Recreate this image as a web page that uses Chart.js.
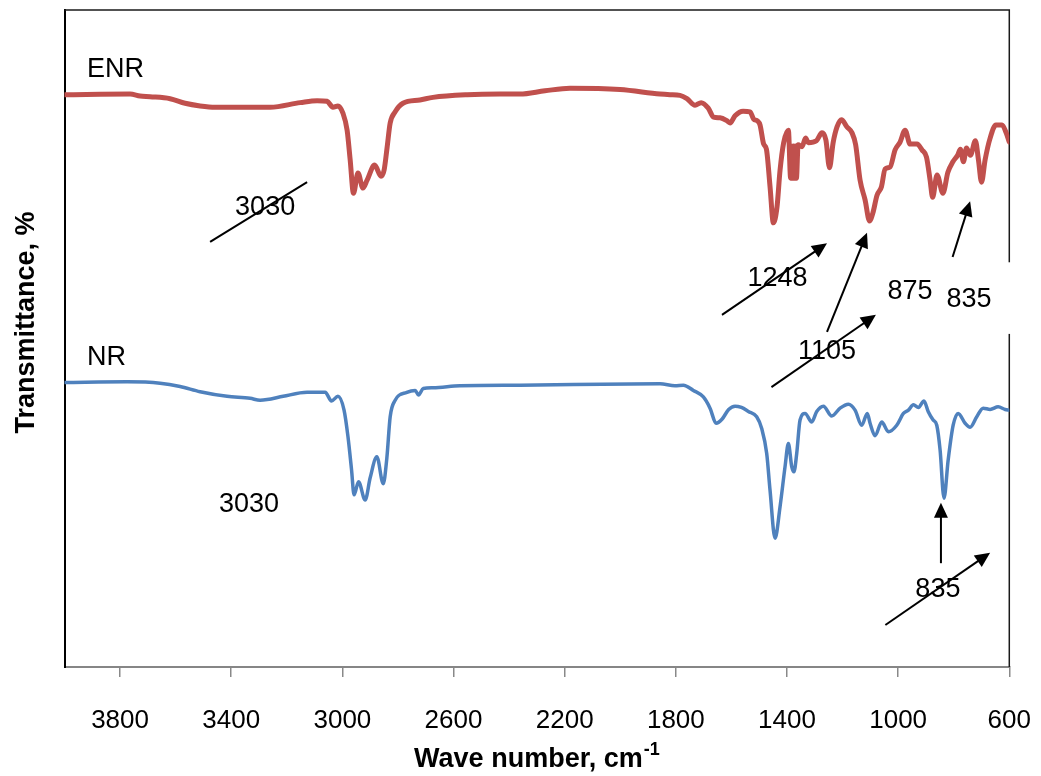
<!DOCTYPE html>
<html>
<head>
<meta charset="utf-8">
<script src="https://cdn.jsdelivr.net/npm/chart.js@4.4.1/dist/chart.umd.min.js"></script>
<style>
html,body{margin:0;padding:0;background:#ffffff;}
#wrap{width:1041px;height:776px;}
canvas{display:block;}
</style>
</head>
<body>
<div id="wrap"><canvas id="c" width="1041" height="776"></canvas></div>
<script>
// ---------- DATA ----------
const enrWave = [4000,3764,3728,3692,3620,3566,3512,3458,3332,3260,3152,3091,3055,3034,3016,2998,2983,2972,2960,2944,2926,2911,2884,2861,2850,2839,2828,2810,2782,2721,2674,2551,2433,2361,2271,2181,2001,1857,1821,1785,1760,1731,1709,1684,1664,1641,1618,1605,1587,1558,1533,1520,1506,1497,1484,1474,1461,1449,1436,1425,1412,1395,1387,1384,1380,1377,1373,1369,1366,1360,1346,1333,1323,1294,1274,1260,1247,1234,1220,1204,1184,1166,1153,1137,1119,1103,1091,1076,1060,1047,1029,1011,993,975,957,932,914,898,885,876,860,839,821,803,786,776,765,754,740,722,711,700,687,669,648,626,612,600];
const enrT = [87.1,87.2,86.9,86.8,86.5,85.8,85.4,85.2,85.2,85.2,85.9,86.2,86.1,85.2,85.4,84.3,81.7,77.2,72.1,75.2,72.9,74.1,76.4,74.7,75.6,79.1,82.8,84.5,85.8,86.3,86.7,87.1,87.2,87.2,87.7,88.1,87.9,87.2,87.1,87.0,86.5,85.5,85.9,85.1,83.7,83.6,83.2,82.8,83.9,84.6,84.5,83.4,83.1,82.5,79.6,78.8,73.1,67.6,70.0,75.6,79.8,81.7,74.4,79.3,74.4,79.3,74.4,79.3,74.4,79.5,79.2,80.5,79.8,80.1,81.3,80.2,76.0,79.8,82.2,83.3,82.2,81.3,79.5,74.1,71.1,67.9,69.1,71.8,73.1,75.8,76.1,78.7,79.9,81.7,79.6,79.6,78.7,77.6,74.1,71.5,74.9,72.1,75.3,76.9,77.9,78.8,76.9,79.0,77.9,80.1,77.2,73.8,77.2,80.5,82.5,82.5,81.4,79.9];

const nrWave = [4000,3775,3656,3584,3512,3415,3332,3296,3271,3213,3127,3062,3039,3016,2994,2980,2967,2958,2942,2918,2900,2876,2853,2840,2828,2810,2768,2738,2726,2709,2674,2577,2361,1857,1803,1773,1737,1701,1677,1655,1634,1610,1587,1564,1539,1509,1491,1473,1461,1443,1425,1407,1395,1383,1375,1365,1353,1335,1311,1293,1269,1239,1209,1179,1155,1131,1111,1101,1083,1059,1035,1005,981,963,945,927,907,892,874,861,849,835,820,802,784,759,741,717,694,669,640,615,600];
const nrT = [43.3,43.4,43.2,42.7,41.9,41.2,40.9,40.6,40.7,41.2,41.8,41.8,40.5,41.2,39.1,35.1,30.0,26.2,28.2,25.4,28.8,32.0,27.9,31.8,38.1,40.6,41.8,42.1,41.4,42.4,42.5,42.8,42.9,43.1,42.8,42.9,42.1,41.1,39.4,37.1,37.7,39.2,39.7,39.5,38.9,38.1,36.3,32.5,26.9,19.6,24.4,30.5,34.0,30.5,29.7,32.5,37.6,38.6,37.3,38.9,39.7,38.2,39.4,40.0,39.1,36.8,38.6,37.1,35.2,37.3,35.8,36.8,38.6,39.1,39.9,39.5,40.5,38.9,37.6,36.8,33.0,25.7,31.5,36.8,38.6,37.1,36.5,38.1,39.4,39.2,39.6,39.2,39.1];

const tickValues = [3800,3400,3000,2600,2200,1800,1400,1000,600];
const tickLabels = ['3800','3400','3000','2600','2200','1800','1400','1000','600'];

// annotation arrows: [fromWave, fromT, toWave, toT, hasHead]
const arrowList = [
  [3476, 64.7, 3127, 73.8, 0],
  [1634, 53.6, 1256, 64.5, 1],
  [1256, 51.0, 1112, 66.1, 1],
  [1456, 42.6, 1080, 53.6, 1],
  [804, 62.4, 741, 70.9, 1],
  [846, 15.8, 846, 25.0, 1],
  [1046, 6.4, 669, 17.4, 1]
];
// annotation labels
const labelTexts = ['ENR','NR','3030','3030','1248','875','835','1105','835'];
const labelWave  = [3919, 3919, 3278, 3336, 1434, 957, 745, 1256, 857];
const labelT     = [90.9, 47.1, 69.9, 24.7, 59.05, 57.1, 56.0, 48.0, 11.8];
const labelAlign = ['left','left','center','center','center','center','center','center','center'];
// white text box behind the upper "835" label: [wave1, T1, wave2, T2]
const whiteBox = [857, 61.6, 562, 50.7];

const FONT = '"Liberation Sans", Arial, Helvetica, sans-serif';

// ---------- PLUGINS ----------
const framePlugin = {
  id: 'frame',
  beforeDatasetsDraw(chart) {
    const {ctx, chartArea: a} = chart;
    ctx.save();
    ctx.strokeStyle = '#1a1a1a';
    ctx.lineWidth = 1.5;
    ctx.beginPath();
    ctx.moveTo(a.left, a.top);
    ctx.lineTo(a.right, a.top);
    ctx.lineTo(a.right, a.bottom);
    ctx.stroke();
    ctx.restore();
  }
};

const annotPlugin = {
  id: 'annot',
  afterDatasetsDraw(chart) {
    const {ctx, scales: {x, y}} = chart;
    ctx.save();
    // white box
    const bx1 = x.getPixelForValue(whiteBox[0]), by1 = y.getPixelForValue(whiteBox[1]);
    const bx2 = x.getPixelForValue(whiteBox[2]), by2 = y.getPixelForValue(whiteBox[3]);
    ctx.fillStyle = '#ffffff';
    ctx.fillRect(bx1, by1, bx2 - bx1, by2 - by1);
    // arrows
    ctx.strokeStyle = '#000';
    ctx.fillStyle = '#000';
    ctx.lineWidth = 2;
    arrowList.forEach(a => {
      const x1 = x.getPixelForValue(a[0]), y1 = y.getPixelForValue(a[1]);
      const x2 = x.getPixelForValue(a[2]), y2 = y.getPixelForValue(a[3]);
      const ang = Math.atan2(y2 - y1, x2 - x1);
      const hl = 15, hw = 7;
      let ex = x2, ey = y2;
      if (a[4]) { ex = x2 - Math.cos(ang) * (hl - 2); ey = y2 - Math.sin(ang) * (hl - 2); }
      ctx.beginPath();
      ctx.moveTo(x1, y1);
      ctx.lineTo(ex, ey);
      ctx.stroke();
      if (a[4]) {
        const bx = x2 - Math.cos(ang) * hl, by = y2 - Math.sin(ang) * hl;
        ctx.beginPath();
        ctx.moveTo(x2, y2);
        ctx.lineTo(bx - Math.sin(ang) * hw, by + Math.cos(ang) * hw);
        ctx.lineTo(bx + Math.sin(ang) * hw, by - Math.cos(ang) * hw);
        ctx.closePath();
        ctx.fill();
      }
    });
    // labels
    ctx.font = '27px ' + FONT;
    ctx.textBaseline = 'middle';
    labelTexts.forEach((t, i) => {
      ctx.textAlign = labelAlign[i];
      ctx.fillText(t, x.getPixelForValue(labelWave[i]), y.getPixelForValue(labelT[i]));
    });
    ctx.restore();
  },
  afterDraw(chart) {
    const {ctx, chartArea: a} = chart;
    ctx.save();
    ctx.fillStyle = '#000';
    // x-axis title with superscript
    const main = 'Wave number, cm';
    const sup = '-1';
    ctx.font = 'bold 27px ' + FONT;
    const mw = ctx.measureText(main).width;
    ctx.font = 'bold 18px ' + FONT;
    const sw = ctx.measureText(sup).width;
    const cx = (a.left + a.right) / 2;
    const sx = cx - (mw + sw + 1) / 2;
    ctx.textAlign = 'left';
    ctx.textBaseline = 'alphabetic';
    ctx.font = 'bold 27px ' + FONT;
    ctx.fillText(main, sx, 767);
    ctx.font = 'bold 18px ' + FONT;
    ctx.fillText(sup, sx + mw + 1, 755);
    // y-axis title
    ctx.font = 'bold 27px ' + FONT;
    ctx.translate(34, (a.top + a.bottom) / 2 - 16);
    ctx.rotate(-Math.PI / 2);
    ctx.textAlign = 'center';
    ctx.fillText('Transmittance, %', 0, 0);
    ctx.restore();
  }
};

// ---------- CHART ----------
const enrData = enrWave.map((w, i) => ({x: w, y: enrT[i]}));
const nrData = nrWave.map((w, i) => ({x: w, y: nrT[i]}));

new Chart(document.getElementById('c'), {
  type: 'line',
  data: {
    datasets: [
      {label: 'ENR', data: enrData, borderColor: '#C0504D', borderWidth: 5, pointRadius: 0,
       cubicInterpolationMode: 'monotone', fill: false, borderCapStyle: 'round', borderJoinStyle: 'round'},
      {label: 'NR', data: nrData, borderColor: '#4F81BD', borderWidth: 3.5, pointRadius: 0,
       cubicInterpolationMode: 'monotone', fill: false, borderCapStyle: 'round', borderJoinStyle: 'round'}
    ]
  },
  options: {
    responsive: false,
    animation: false,
    devicePixelRatio: 1,
    parsing: true,
    layout: {padding: {top: 10, right: 31.7, left: 0, bottom: 0}},
    plugins: {legend: {display: false}, tooltip: {enabled: false}, title: {display: false}},
    scales: {
      x: {
        type: 'linear', min: 600, max: 4000, reverse: true,
        afterBuildTicks: s => { s.ticks = tickValues.map(v => ({value: v})); },
        afterFit: s => { s.height = 109; s.paddingLeft = 0; s.paddingRight = 0; },
        ticks: {
          callback: (v, i) => tickLabels[i],
          font: {family: FONT, size: 26},
          color: '#000', padding: 28, maxRotation: 0, autoSkip: false
        },
        grid: {drawOnChartArea: false, drawTicks: true, tickLength: 10, color: '#898989', lineWidth: 1.5},
        border: {display: true, color: '#868686', width: 2},
        title: {display: false}
      },
      y: {
        type: 'linear', min: 0, max: 100,
        ticks: {display: false},
        grid: {display: false},
        border: {display: true, color: '#000', width: 2},
        afterFit: s => { s.width = 64.5; s.paddingTop = 0; s.paddingBottom = 0; },
        title: {display: false}
      }
    }
  },
  plugins: [framePlugin, annotPlugin]
});
</script>
</body>
</html>
